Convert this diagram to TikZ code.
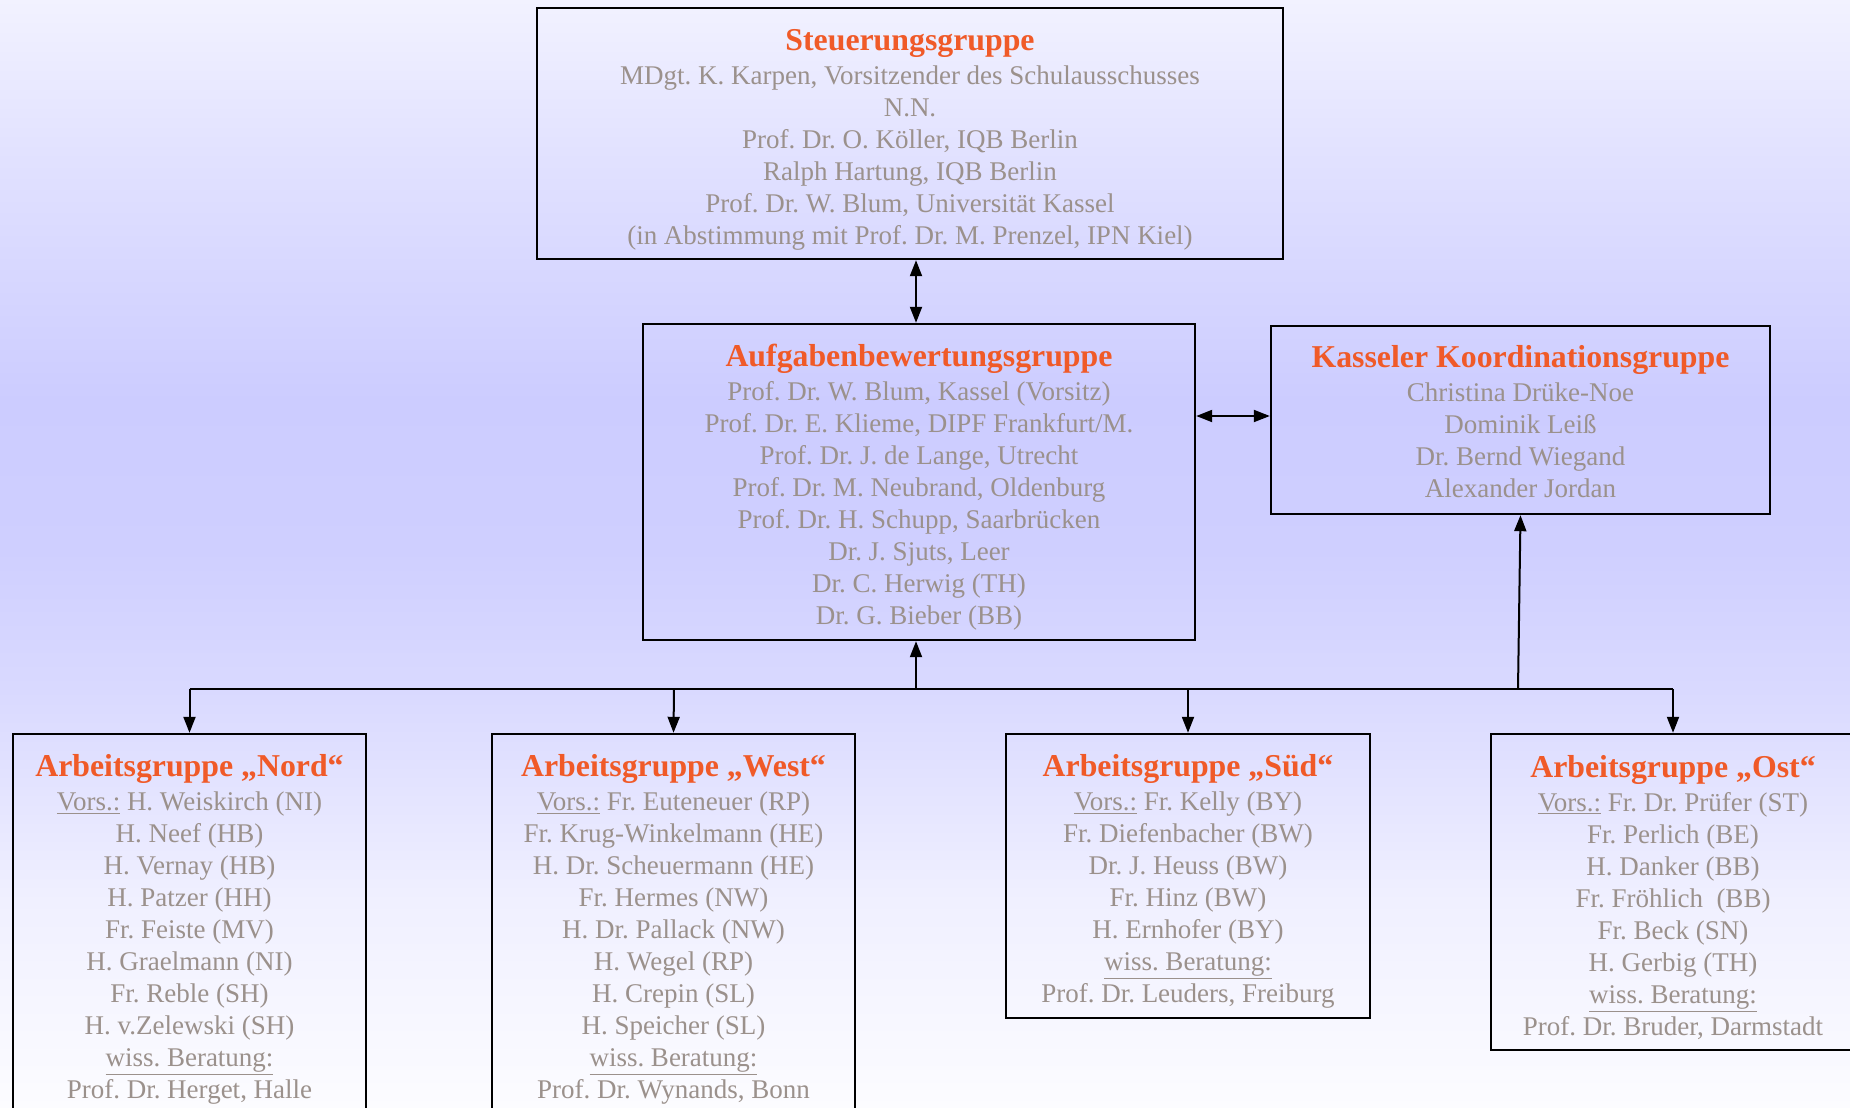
\documentclass[tikz,border=0pt]{standalone}
\usepackage{fontspec}
\setmainfont{Liberation Serif}
\usetikzlibrary{arrows.meta}
\frenchspacing
\definecolor{ttlcol}{RGB}{240,90,40}
\definecolor{txtcol}{RGB}{155,145,140}
\definecolor{bgA}{RGB}{242,242,255}
\definecolor{bgB}{RGB}{226,226,255}
\definecolor{bgC}{RGB}{204,204,255}
\definecolor{bgD}{RGB}{207,207,255}
\definecolor{bgE}{RGB}{218,218,255}
\definecolor{bgF}{RGB}{240,240,255}
\definecolor{bgG}{RGB}{252,252,255}
\newcommand{\grptitle}[2][33.7]{{\fontsize{31.8}{34}\selectfont\bfseries\color{ttlcol}\rule{0pt}{#1pt}#2}\\[2pt]}
\tikzset{
  grpbox/.style={draw=black, line width=2.4pt, inner sep=0pt, align=center,
    text=txtcol, font=\fontsize{27}{32}\selectfont\frenchspacing},
  conn/.style={draw=black, line width=2pt},
  buscon/.style={draw=black, line width=2.6pt},
  onetip/.style={-{Triangle[length=16pt,width=12pt]}},
  twotip/.style={{Triangle[length=16pt,width=12pt]}-{Triangle[length=16pt,width=12pt]}},
}
\begin{document}
\begin{tikzpicture}[x=1pt,y=-1pt]
\useasboundingbox (0,0) rectangle (1850,1108);
\clip (0,0) rectangle (1850,1108);
% background gradient
\shade[top color=bgA, bottom color=bgB] (0,-1) rectangle (1850,151);
\shade[top color=bgB, bottom color=bgC] (0,150) rectangle (1850,401);
\shade[top color=bgC, bottom color=bgD] (0,400) rectangle (1850,551);
\shade[top color=bgD, bottom color=bgE] (0,550) rectangle (1850,701);
\shade[top color=bgE, bottom color=bgF] (0,700) rectangle (1850,901);
\shade[top color=bgF, bottom color=bgG] (0,900) rectangle (1850,1109);

% boxes
\node[grpbox, minimum width=746, minimum height=251] (steu) at (910,133.5) {%
\grptitle{Steuerungsgruppe}
MDgt. K. Karpen, Vorsitzender des Schulausschusses\\
N.N.\\
Prof. Dr. O. Köller, IQB Berlin\\
Ralph Hartung, IQB Berlin\\
Prof. Dr. W. Blum, Universität Kassel\\
(in Abstimmung mit Prof. Dr. M. Prenzel, IPN Kiel)};

\node[grpbox, minimum width=552, minimum height=316] (auf) at (919,482) {%
\grptitle{Aufgabenbewertungsgruppe}
Prof. Dr. W. Blum, Kassel (Vorsitz)\\
Prof. Dr. E. Klieme, DIPF Frankfurt/M.\\
Prof. Dr. J. de Lange, Utrecht\\
Prof. Dr. M. Neubrand, Oldenburg\\
Prof. Dr. H. Schupp, Saarbrücken\\
Dr. J. Sjuts, Leer\\
Dr. C. Herwig (TH)\\
Dr. G. Bieber (BB)};

\node[grpbox, minimum width=499, minimum height=188] (kas) at (1520.5,420) {%
\grptitle[26]{Kasseler Koordinationsgruppe}
Christina Drüke-Noe\\
Dominik Leiß\\
Dr. Bernd Wiegand\\
Alexander Jordan};

\node[grpbox, minimum width=353, minimum height=380] (nord) at (189.5,924) {%
\grptitle{Arbeitsgruppe „Nord“}
\underline{Vors.:} H. Weiskirch (NI)\\
H. Neef (HB)\\
H. Vernay (HB)\\
H. Patzer (HH)\\
Fr. Feiste (MV)\\
H. Graelmann (NI)\\
Fr. Reble (SH)\\
H. v.Zelewski (SH)\\
\underline{wiss. Beratung:}\\
Prof. Dr. Herget, Halle};

\node[grpbox, minimum width=363, minimum height=380] (west) at (673.5,924) {%
\grptitle{Arbeitsgruppe „West“}
\underline{Vors.:} Fr. Euteneuer (RP)\\
Fr. Krug-Winkelmann (HE)\\
H. Dr. Scheuermann (HE)\\
Fr. Hermes (NW)\\
H. Dr. Pallack (NW)\\
H. Wegel (RP)\\
H. Crepin (SL)\\
H. Speicher (SL)\\
\underline{wiss. Beratung:}\\
Prof. Dr. Wynands, Bonn};

\node[grpbox, minimum width=364, minimum height=284] (sued) at (1188,876) {%
\grptitle{Arbeitsgruppe „Süd“}
\underline{Vors.:} Fr. Kelly (BY)\\
Fr. Diefenbacher (BW)\\
Dr. J. Heuss (BW)\\
Fr. Hinz (BW)\\
H. Ernhofer (BY)\\
\underline{wiss. Beratung:}\\
Prof. Dr. Leuders, Freiburg};

\node[grpbox, minimum width=364, minimum height=316] (ost) at (1673,892) {%
\grptitle{Arbeitsgruppe „Ost“}
\underline{Vors.:} Fr. Dr. Prüfer (ST)\\
Fr. Perlich (BE)\\
H. Danker (BB)\\
Fr. Fröhlich\ \ (BB)\\
Fr. Beck (SN)\\
H. Gerbig (TH)\\
\underline{wiss. Beratung:}\\
Prof. Dr. Bruder, Darmstadt};

% connectors
\coordinate (busy) at (0,689);
\coordinate (busA) at (916,689);
\coordinate (busK) at (1518,689);
\coordinate (busW) at (674,689);
\draw[conn, twotip] (steu.south -| busA) -- (auf.north -| busA);
\draw[conn, twotip] (auf.east |- 0,416) -- (kas.west |- 0,416);
\draw[buscon] (nord.north |- busy) -- (ost.north |- busy);
\draw[conn, onetip] (busA) -- (auf.south -| busA);
\draw[conn, onetip] (busK) -- (kas.south);
\draw[conn, onetip] (nord.north |- busy) -- (nord.north);
\draw[conn, onetip] (busW) -- (west.north);
\draw[conn, onetip] (sued.north |- busy) -- (sued.north);
\draw[conn, onetip] (ost.north |- busy) -- (ost.north);
\end{tikzpicture}
\end{document}
